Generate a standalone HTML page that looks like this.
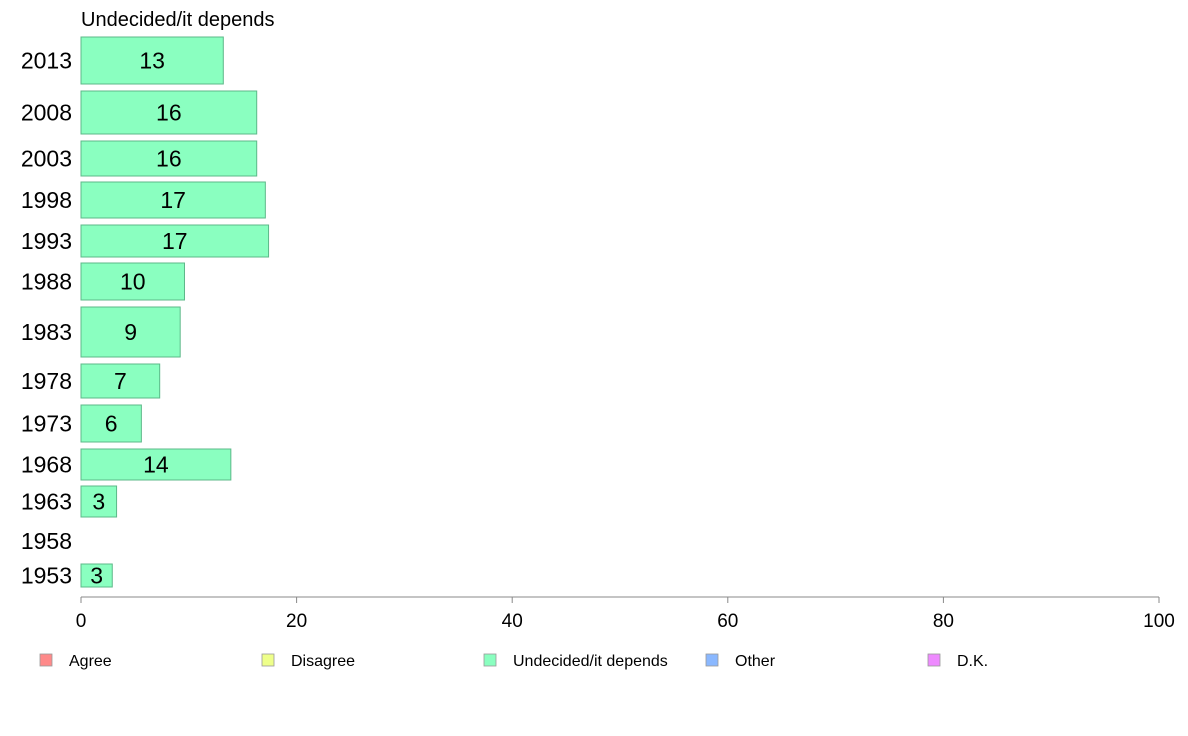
<!DOCTYPE html>
<html><head><meta charset="utf-8"><style>
body{margin:0;background:#fff;}
svg{display:block;font-family:"Liberation Sans",Arial,sans-serif;}
</style></head><body>
<svg id="chart" width="1188" height="736">
<text x="81" y="26" font-size="20" fill="#000">Undecided/it depends</text>
<g id="bars"></g>
<g id="axis"></g>
<g id="legend"></g>
</svg>
<script>
const years = ["2013","2008","2003","1998","1993","1988","1983","1978","1973","1968","1963","1958","1953"];
const values = [13.2,16.3,16.3,17.1,17.4,9.6,9.2,7.3,5.6,13.9,3.3,null,2.9];
const labels = ["13","16","16","17","17","10","9","7","6","14","3","","3"];
const ticks = [0,20,40,60,80,100];
const legendItems = ["Agree","Disagree","Undecided/it depends","Other","D.K."];
const legendColors = ["#ff8a8a","#eeff8a","#8affc0","#8ab8ff","#ee8aff"];
// layout bands (pixel geometry for each row)
const bandTop = [37,91,141,182,225,263,307,364,405,449,486,524,564];
const bandBot = [84,134,176,218,257,300,357,398,442,480,517,558,587];

const NS="http://www.w3.org/2000/svg";
const x0=81,x1=1159;
const xs=v=>x0+(x1-x0)*v/100;
function mk(t,a,p){const e=document.createElementNS(NS,t);for(const k in a)e.setAttribute(k,a[k]);p.appendChild(e);return e;}
const bars=document.getElementById('bars');
years.forEach((y,i)=>{
  const mid=(bandTop[i]+bandBot[i])/2;
  const yl=mk('text',{x:72,y:mid+8,'font-size':23,'text-anchor':'end',fill:'#000'},bars);
  yl.textContent=y;
  
  
  if(values[i]==null)return;
  const r=mk('rect',{x:x0,y:bandTop[i],width:xs(values[i])-x0,height:bandBot[i]-bandTop[i],fill:'#8affc0',stroke:'#5cb888','stroke-width':1},bars);
  
  
  const t=mk('text',{x:(x0+xs(values[i]))/2,y:mid+8,'font-size':23,'text-anchor':'middle',fill:'#000'},bars);
  t.textContent=labels[i];
  
  
});
const ax=document.getElementById('axis');
const l=mk('line',{x1:x0,x2:x1,y1:597,y2:597,stroke:'#888'},ax);


ticks.forEach(v=>{
  const tk=mk('line',{x1:xs(v),x2:xs(v),y1:597,y2:603,stroke:'#888'},ax);
  
  
  const t=mk('text',{x:xs(v),y:627,'font-size':19,'text-anchor':'middle',fill:'#000'},ax);
  t.textContent=v;
  
  
});
const lg=document.getElementById('legend');
legendItems.forEach((n,i)=>{
  const x=40+222*i;
  const s=mk('rect',{x:x,y:654,width:12,height:12,fill:legendColors[i],stroke:'#999','stroke-width':0.8},lg);
  
  
  const t=mk('text',{x:x+29,y:666,'font-size':16,fill:'#000'},lg);
  t.textContent=n;
  
  
});
</script>
</body></html>
